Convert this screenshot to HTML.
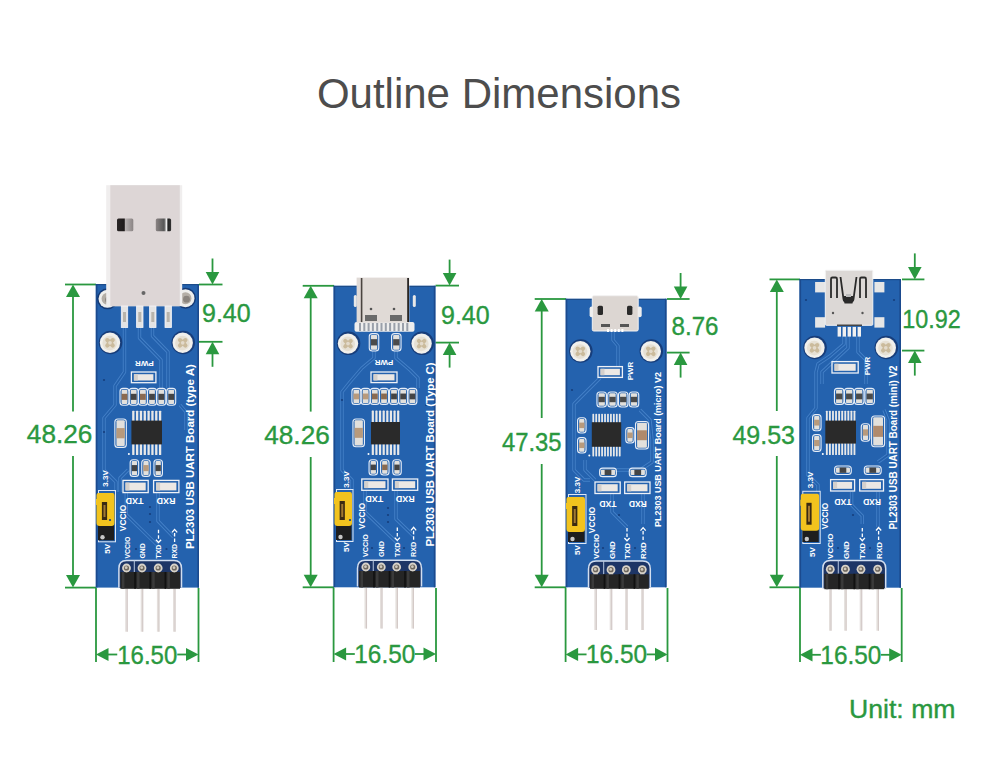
<!DOCTYPE html><html><head><meta charset="utf-8"><style>html,body{margin:0;padding:0;background:#fff;overflow:hidden;}svg{display:block;} text{font-family:"Liberation Sans",sans-serif;} .dim{font-size:25px;fill:#2a983f;stroke:#2a983f;stroke-width:0.35px;} .title{font-size:42px;fill:#4d4d4d;}</style></head><body>
<svg width="1000" height="783" viewBox="0 0 1000 783">
<rect width="1000" height="783" fill="#fff"/>
<text x="499" y="108" class="title" text-anchor="middle">Outline Dimensions</text>
<line x1="65" y1="284.5" x2="96" y2="284.5" stroke="#2a983f" stroke-width="1.8"/>
<line x1="65" y1="587.6" x2="96" y2="587.6" stroke="#2a983f" stroke-width="1.8"/>
<line x1="73" y1="294.5" x2="73" y2="411.6" stroke="#2a983f" stroke-width="1.8"/>
<line x1="73" y1="456" x2="73" y2="577.6" stroke="#2a983f" stroke-width="1.8"/>
<path d="M73,284.5 L66,297.0 L80,297.0 Z" fill="#2a983f"/>
<path d="M73,587.6 L66,575.1 L80,575.1 Z" fill="#2a983f"/>
<text x="59.6" y="443" class="dim" text-anchor="middle" textLength="65.5" lengthAdjust="spacingAndGlyphs">48.26</text>
<line x1="199" y1="284.5" x2="222.5" y2="284.5" stroke="#2a983f" stroke-width="1.8"/>
<line x1="199" y1="341.8" x2="222.5" y2="341.8" stroke="#2a983f" stroke-width="1.8"/>
<line x1="212.5" y1="258.5" x2="212.5" y2="274.5" stroke="#2a983f" stroke-width="1.8"/>
<path d="M212.5,284.5 L205.7,272.0 L219.3,272.0 Z" fill="#2a983f"/>
<line x1="212.5" y1="351.8" x2="212.5" y2="366.8" stroke="#2a983f" stroke-width="1.8"/>
<path d="M212.5,341.8 L205.7,354.3 L219.3,354.3 Z" fill="#2a983f"/>
<text x="202" y="322.4" class="dim">9.40</text>
<line x1="96" y1="588" x2="96" y2="662" stroke="#2a983f" stroke-width="1.8"/>
<line x1="198.5" y1="588" x2="198.5" y2="662" stroke="#2a983f" stroke-width="1.8"/>
<path d="M96,654.5 L108.5,647.9 L108.5,661.1 Z" fill="#2a983f"/>
<path d="M198.5,654.5 L186.0,647.9 L186.0,661.1 Z" fill="#2a983f"/>
<line x1="106" y1="654.5" x2="117.25" y2="654.5" stroke="#2a983f" stroke-width="1.8"/>
<line x1="177.25" y1="654.5" x2="188.5" y2="654.5" stroke="#2a983f" stroke-width="1.8"/>
<text x="147.25" y="663.5" class="dim" text-anchor="middle" textLength="60" lengthAdjust="spacingAndGlyphs">16.50</text>
<line x1="302.7" y1="285.8" x2="334" y2="285.8" stroke="#2a983f" stroke-width="1.8"/>
<line x1="302.7" y1="587.3" x2="334" y2="587.3" stroke="#2a983f" stroke-width="1.8"/>
<line x1="310.7" y1="295.8" x2="310.7" y2="411.6" stroke="#2a983f" stroke-width="1.8"/>
<line x1="310.7" y1="457" x2="310.7" y2="577.3" stroke="#2a983f" stroke-width="1.8"/>
<path d="M310.7,285.8 L303.7,298.3 L317.7,298.3 Z" fill="#2a983f"/>
<path d="M310.7,587.3 L303.7,574.8 L317.7,574.8 Z" fill="#2a983f"/>
<text x="297" y="443.5" class="dim" text-anchor="middle" textLength="65.5" lengthAdjust="spacingAndGlyphs">48.26</text>
<line x1="435.5" y1="285.6" x2="459" y2="285.6" stroke="#2a983f" stroke-width="1.8"/>
<line x1="435.5" y1="342.6" x2="459" y2="342.6" stroke="#2a983f" stroke-width="1.8"/>
<line x1="449.6" y1="259.6" x2="449.6" y2="275.6" stroke="#2a983f" stroke-width="1.8"/>
<path d="M449.6,285.6 L442.8,273.1 L456.40000000000003,273.1 Z" fill="#2a983f"/>
<line x1="449.6" y1="352.6" x2="449.6" y2="367.6" stroke="#2a983f" stroke-width="1.8"/>
<path d="M449.6,342.6 L442.8,355.1 L456.40000000000003,355.1 Z" fill="#2a983f"/>
<text x="441" y="324" class="dim">9.40</text>
<line x1="333.6" y1="588" x2="333.6" y2="662" stroke="#2a983f" stroke-width="1.8"/>
<line x1="436" y1="588" x2="436" y2="662" stroke="#2a983f" stroke-width="1.8"/>
<path d="M333.6,654 L346.1,647.4 L346.1,660.6 Z" fill="#2a983f"/>
<path d="M436,654 L423.5,647.4 L423.5,660.6 Z" fill="#2a983f"/>
<line x1="343.6" y1="654" x2="354.8" y2="654" stroke="#2a983f" stroke-width="1.8"/>
<line x1="414.8" y1="654" x2="426" y2="654" stroke="#2a983f" stroke-width="1.8"/>
<text x="384.8" y="663" class="dim" text-anchor="middle" textLength="61" lengthAdjust="spacingAndGlyphs">16.50</text>
<line x1="534.7" y1="299" x2="566" y2="299" stroke="#2a983f" stroke-width="1.8"/>
<line x1="534.7" y1="587.3" x2="566" y2="587.3" stroke="#2a983f" stroke-width="1.8"/>
<line x1="541.7" y1="309" x2="541.7" y2="418" stroke="#2a983f" stroke-width="1.8"/>
<line x1="541.7" y1="464" x2="541.7" y2="577.3" stroke="#2a983f" stroke-width="1.8"/>
<path d="M541.7,299 L534.7,311.5 L548.7,311.5 Z" fill="#2a983f"/>
<path d="M541.7,587.3 L534.7,574.8 L548.7,574.8 Z" fill="#2a983f"/>
<text x="531.8" y="451" class="dim" text-anchor="middle" textLength="59.6" lengthAdjust="spacingAndGlyphs">47.35</text>
<line x1="667" y1="299" x2="689.6" y2="299" stroke="#2a983f" stroke-width="1.8"/>
<line x1="667" y1="352.6" x2="689.6" y2="352.6" stroke="#2a983f" stroke-width="1.8"/>
<line x1="680.6" y1="273" x2="680.6" y2="289" stroke="#2a983f" stroke-width="1.8"/>
<path d="M680.6,299 L673.8000000000001,286.5 L687.4,286.5 Z" fill="#2a983f"/>
<line x1="680.6" y1="362.6" x2="680.6" y2="377.6" stroke="#2a983f" stroke-width="1.8"/>
<path d="M680.6,352.6 L673.8000000000001,365.1 L687.4,365.1 Z" fill="#2a983f"/>
<text x="671.5" y="334.8" class="dim" textLength="47" lengthAdjust="spacingAndGlyphs">8.76</text>
<line x1="565.6" y1="588" x2="565.6" y2="662" stroke="#2a983f" stroke-width="1.8"/>
<line x1="667.5" y1="588" x2="667.5" y2="662" stroke="#2a983f" stroke-width="1.8"/>
<path d="M565.6,654.4 L578.1,647.8 L578.1,661.0 Z" fill="#2a983f"/>
<path d="M667.5,654.4 L655.0,647.8 L655.0,661.0 Z" fill="#2a983f"/>
<line x1="575.6" y1="654.4" x2="586.55" y2="654.4" stroke="#2a983f" stroke-width="1.8"/>
<line x1="646.55" y1="654.4" x2="657.5" y2="654.4" stroke="#2a983f" stroke-width="1.8"/>
<text x="616.55" y="663.4" class="dim" text-anchor="middle" textLength="61" lengthAdjust="spacingAndGlyphs">16.50</text>
<line x1="769.5" y1="279.4" x2="800" y2="279.4" stroke="#2a983f" stroke-width="1.8"/>
<line x1="769.5" y1="587.3" x2="800" y2="587.3" stroke="#2a983f" stroke-width="1.8"/>
<line x1="776.8" y1="289.4" x2="776.8" y2="411" stroke="#2a983f" stroke-width="1.8"/>
<line x1="776.8" y1="456" x2="776.8" y2="577.3" stroke="#2a983f" stroke-width="1.8"/>
<path d="M776.8,279.4 L769.8,291.9 L783.8,291.9 Z" fill="#2a983f"/>
<path d="M776.8,587.3 L769.8,574.8 L783.8,574.8 Z" fill="#2a983f"/>
<text x="763.7" y="443.5" class="dim" text-anchor="middle">49.53</text>
<line x1="902" y1="279.4" x2="924.4" y2="279.4" stroke="#2a983f" stroke-width="1.8"/>
<line x1="902" y1="350.6" x2="924.4" y2="350.6" stroke="#2a983f" stroke-width="1.8"/>
<line x1="914.8" y1="253.39999999999998" x2="914.8" y2="269.4" stroke="#2a983f" stroke-width="1.8"/>
<path d="M914.8,279.4 L908.0,266.9 L921.5999999999999,266.9 Z" fill="#2a983f"/>
<line x1="914.8" y1="360.6" x2="914.8" y2="375.6" stroke="#2a983f" stroke-width="1.8"/>
<path d="M914.8,350.6 L908.0,363.1 L921.5999999999999,363.1 Z" fill="#2a983f"/>
<text x="902.2" y="328" class="dim" textLength="58.5" lengthAdjust="spacingAndGlyphs">10.92</text>
<line x1="800" y1="588" x2="800" y2="662" stroke="#2a983f" stroke-width="1.8"/>
<line x1="901.7" y1="588" x2="901.7" y2="662" stroke="#2a983f" stroke-width="1.8"/>
<path d="M800,654.8 L812.5,648.1999999999999 L812.5,661.4 Z" fill="#2a983f"/>
<path d="M901.7,654.8 L889.2,648.1999999999999 L889.2,661.4 Z" fill="#2a983f"/>
<line x1="810" y1="654.8" x2="820.85" y2="654.8" stroke="#2a983f" stroke-width="1.8"/>
<line x1="880.85" y1="654.8" x2="891.7" y2="654.8" stroke="#2a983f" stroke-width="1.8"/>
<text x="850.85" y="663.8" class="dim" text-anchor="middle" textLength="61" lengthAdjust="spacingAndGlyphs">16.50</text>
<text x="849" y="718" class="dim" textLength="106.5" lengthAdjust="spacingAndGlyphs">Unit: mm</text>
<rect x="95.8" y="284" width="103.2" height="303.6" fill="#2462ae"/>
<rect x="95.8" y="284" width="1.6" height="303.6" fill="#1b4a8e"/>
<rect x="197.4" y="284" width="1.6" height="303.6" fill="#1b4a8e"/>
<rect x="95.8" y="284" width="103.2" height="1.2" fill="#1c4c8a"/>
<path d="M124.5,327 L124.5,372 L115,386 L115,405 L104,418 L104,470 L116,482 L116,492" fill="none" stroke="#4f8bd0" stroke-width="3.4000000000000004" stroke-linejoin="round" opacity="0.75"/>
<path d="M124.5,327 L124.5,372 L115,386 L115,405 L104,418 L104,470 L116,482 L116,492" fill="none" stroke="#2360ab" stroke-width="1.6" stroke-linejoin="round"/>
<path d="M139.5,327 L139.5,338 L161,360 L161,388" fill="none" stroke="#4f8bd0" stroke-width="3.4000000000000004" stroke-linejoin="round" opacity="0.75"/>
<path d="M139.5,327 L139.5,338 L161,360 L161,388" fill="none" stroke="#2360ab" stroke-width="1.6" stroke-linejoin="round"/>
<path d="M152.5,327 L152.5,336 L168,352 L168,388" fill="none" stroke="#4f8bd0" stroke-width="3.4000000000000004" stroke-linejoin="round" opacity="0.75"/>
<path d="M152.5,327 L152.5,336 L168,352 L168,388" fill="none" stroke="#2360ab" stroke-width="1.6" stroke-linejoin="round"/>
<path d="M180,405 L186,412 L186,430" fill="none" stroke="#4f8bd0" stroke-width="3.4000000000000004" stroke-linejoin="round" opacity="0.75"/>
<path d="M180,405 L186,412 L186,430" fill="none" stroke="#2360ab" stroke-width="1.6" stroke-linejoin="round"/>
<path d="M126.3,493 L126.3,514.7 L157.6,545.4 L157.6,547" fill="none" stroke="#4f8bd0" stroke-width="3.4000000000000004" stroke-linejoin="round" opacity="0.75"/>
<path d="M126.3,493 L126.3,514.7 L157.6,545.4 L157.6,547" fill="none" stroke="#2360ab" stroke-width="1.6" stroke-linejoin="round"/>
<path d="M158,493 L158,521 L173.5,537" fill="none" stroke="#4f8bd0" stroke-width="3.4000000000000004" stroke-linejoin="round" opacity="0.75"/>
<path d="M158,493 L158,521 L173.5,537" fill="none" stroke="#2360ab" stroke-width="1.6" stroke-linejoin="round"/>
<path d="M128,470 L120,478 L120,492" fill="none" stroke="#4f8bd0" stroke-width="3.4000000000000004" stroke-linejoin="round" opacity="0.75"/>
<path d="M128,470 L120,478 L120,492" fill="none" stroke="#2360ab" stroke-width="1.6" stroke-linejoin="round"/>
<circle cx="107.5" cy="298.8" r="10.5" fill="#153a75"/>
<circle cx="107.5" cy="298.8" r="9" fill="#eeeeec"/>
<circle cx="107.5" cy="298.8" r="5.94" fill="#b4aea6"/>
<circle cx="108.5" cy="299.8" r="3.42" fill="#8a847e"/>
<circle cx="185.5" cy="298.2" r="10.5" fill="#153a75"/>
<circle cx="185.5" cy="298.2" r="9" fill="#eeeeec"/>
<circle cx="185.5" cy="298.2" r="5.94" fill="#b4aea6"/>
<circle cx="186.5" cy="299.2" r="3.42" fill="#8a847e"/>
<rect x="106.2" y="185.2" width="76" height="121" fill="#f0eeee"/>
<rect x="110.3" y="185.2" width="69.5" height="121" fill="#ddd6d6"/>
<defs><linearGradient id="hg" x1="0" x2="1"><stop offset="0" stop-color="#2a2626"/><stop offset="0.45" stop-color="#1e1a1a"/><stop offset="0.5" stop-color="#b8b2b2"/><stop offset="1" stop-color="#8a8484"/></linearGradient><linearGradient id="hg2" x1="0" x2="1"><stop offset="0" stop-color="#8a8484"/><stop offset="0.55" stop-color="#555"/><stop offset="0.7" stop-color="#eee"/><stop offset="0.8" stop-color="#222"/><stop offset="1" stop-color="#333"/></linearGradient></defs>
<rect x="117" y="218.4" width="16.3" height="12.8" rx="1.5" fill="url(#hg)"/>
<rect x="155.8" y="218.4" width="15.3" height="12.8" rx="1.5" fill="url(#hg2)"/>
<circle cx="143.5" cy="293" r="2" fill="#666"/>
<rect x="121.3" y="306" width="6.4" height="21.5" fill="#e4e4e4" stroke="#f4f6fa" stroke-width="0.8"/>
<rect x="123.0" y="312" width="3" height="10" fill="#b8b4ac"/>
<rect x="136.60000000000002" y="306" width="6.4" height="21.5" fill="#e4e4e4" stroke="#f4f6fa" stroke-width="0.8"/>
<rect x="138.3" y="312" width="3" height="10" fill="#b8b4ac"/>
<rect x="149.60000000000002" y="306" width="6.4" height="21.5" fill="#e4e4e4" stroke="#f4f6fa" stroke-width="0.8"/>
<rect x="151.3" y="312" width="3" height="10" fill="#b8b4ac"/>
<rect x="165.0" y="306" width="6.4" height="21.5" fill="#e4e4e4" stroke="#f4f6fa" stroke-width="0.8"/>
<rect x="166.7" y="312" width="3" height="10" fill="#b8b4ac"/>
<circle cx="110.5" cy="342.5" r="11.799999999999999" fill="#173d7a"/>
<circle cx="110" cy="342.8" r="10.2" fill="#f1f0ec"/>
<circle cx="109.7" cy="343.1" r="7.343999999999999" fill="#e6e0d4"/>
<rect x="104.084" y="340.76" width="11.831999999999999" height="4.08" rx="2.04" transform="rotate(45 110 342.8)" fill="#cbbb9c"/>
<rect x="104.084" y="340.76" width="11.831999999999999" height="4.08" rx="2.04" transform="rotate(135 110 342.8)" fill="#cbbb9c"/>
<circle cx="110" cy="342.8" r="1.8359999999999999" fill="#e3dacb"/>
<circle cx="183.2" cy="342.5" r="11.799999999999999" fill="#173d7a"/>
<circle cx="182.7" cy="342.8" r="10.2" fill="#f1f0ec"/>
<circle cx="182.39999999999998" cy="343.1" r="7.343999999999999" fill="#e6e0d4"/>
<rect x="176.784" y="340.76" width="11.831999999999999" height="4.08" rx="2.04" transform="rotate(45 182.7 342.8)" fill="#cbbb9c"/>
<rect x="176.784" y="340.76" width="11.831999999999999" height="4.08" rx="2.04" transform="rotate(135 182.7 342.8)" fill="#cbbb9c"/>
<circle cx="182.7" cy="342.8" r="1.8359999999999999" fill="#e3dacb"/>
<text transform="translate(144.4,360.584) rotate(180)" font-size="8" font-weight="bold" fill="#fff" text-anchor="middle">PWR</text>
<rect x="131.4" y="372" width="24.5" height="10.699999999999989" fill="none" stroke="#eef2f8" stroke-width="1.3"/>
<rect x="133.9" y="374.2" width="19.5" height="6.299999999999988" fill="#ece8e4"/>
<rect x="133.9" y="374.2" width="4" height="6.299999999999988" fill="#d4d0cc"/>
<rect x="120.0" y="388.4" width="9" height="16.900000000000034" rx="3" fill="none" stroke="#e6edf7" stroke-width="1.1"/>
<rect x="121.6" y="389.7" width="5.8" height="14.300000000000034" rx="1" fill="#e2e0dc"/>
<rect x="121.6" y="393.808" width="5.8" height="6.084000000000012" fill="#8a6a50"/>
<rect x="129.2" y="388.4" width="9" height="16.900000000000034" rx="3" fill="none" stroke="#e6edf7" stroke-width="1.1"/>
<rect x="130.79999999999998" y="389.7" width="5.8" height="14.300000000000034" rx="1" fill="#e2e0dc"/>
<rect x="130.79999999999998" y="393.808" width="5.8" height="6.084000000000012" fill="#444"/>
<rect x="138.4" y="388.4" width="9" height="16.900000000000034" rx="3" fill="none" stroke="#e6edf7" stroke-width="1.1"/>
<rect x="140.0" y="389.7" width="5.8" height="14.300000000000034" rx="1" fill="#e2e0dc"/>
<rect x="140.0" y="393.808" width="5.8" height="6.084000000000012" fill="#8a6a50"/>
<rect x="147.5" y="388.4" width="9" height="16.900000000000034" rx="3" fill="none" stroke="#e6edf7" stroke-width="1.1"/>
<rect x="149.1" y="389.7" width="5.8" height="14.300000000000034" rx="1" fill="#e2e0dc"/>
<rect x="149.1" y="393.808" width="5.8" height="6.084000000000012" fill="#444"/>
<rect x="156.8" y="388.4" width="9" height="16.900000000000034" rx="3" fill="none" stroke="#e6edf7" stroke-width="1.1"/>
<rect x="158.4" y="389.7" width="5.8" height="14.300000000000034" rx="1" fill="#e2e0dc"/>
<rect x="158.4" y="393.808" width="5.8" height="6.084000000000012" fill="#444"/>
<rect x="166.7" y="388.4" width="9" height="16.900000000000034" rx="3" fill="none" stroke="#e6edf7" stroke-width="1.1"/>
<rect x="168.29999999999998" y="389.7" width="5.8" height="14.300000000000034" rx="1" fill="#e2e0dc"/>
<rect x="168.29999999999998" y="393.808" width="5.8" height="6.084000000000012" fill="#444"/>
<rect x="132.165" y="410.7" width="2.2949999999999995" height="10.900000000000034" rx="0.6" fill="#e8e8e8"/>
<rect x="132.165" y="443.4" width="2.2949999999999995" height="11.600000000000023" rx="0.6" fill="#e8e8e8"/>
<rect x="135.99" y="410.7" width="2.2949999999999995" height="10.900000000000034" rx="0.6" fill="#e8e8e8"/>
<rect x="135.99" y="443.4" width="2.2949999999999995" height="11.600000000000023" rx="0.6" fill="#e8e8e8"/>
<rect x="139.815" y="410.7" width="2.2949999999999995" height="10.900000000000034" rx="0.6" fill="#e8e8e8"/>
<rect x="139.815" y="443.4" width="2.2949999999999995" height="11.600000000000023" rx="0.6" fill="#e8e8e8"/>
<rect x="143.64" y="410.7" width="2.2949999999999995" height="10.900000000000034" rx="0.6" fill="#e8e8e8"/>
<rect x="143.64" y="443.4" width="2.2949999999999995" height="11.600000000000023" rx="0.6" fill="#e8e8e8"/>
<rect x="147.465" y="410.7" width="2.2949999999999995" height="10.900000000000034" rx="0.6" fill="#e8e8e8"/>
<rect x="147.465" y="443.4" width="2.2949999999999995" height="11.600000000000023" rx="0.6" fill="#e8e8e8"/>
<rect x="151.29" y="410.7" width="2.2949999999999995" height="10.900000000000034" rx="0.6" fill="#e8e8e8"/>
<rect x="151.29" y="443.4" width="2.2949999999999995" height="11.600000000000023" rx="0.6" fill="#e8e8e8"/>
<rect x="155.11499999999998" y="410.7" width="2.2949999999999995" height="10.900000000000034" rx="0.6" fill="#e8e8e8"/>
<rect x="155.11499999999998" y="443.4" width="2.2949999999999995" height="11.600000000000023" rx="0.6" fill="#e8e8e8"/>
<rect x="158.94" y="410.7" width="2.2949999999999995" height="10.900000000000034" rx="0.6" fill="#e8e8e8"/>
<rect x="158.94" y="443.4" width="2.2949999999999995" height="11.600000000000023" rx="0.6" fill="#e8e8e8"/>
<rect x="131.4" y="420.6" width="30.599999999999994" height="23.799999999999955" fill="#2a2a2a"/>
<circle cx="128.9" cy="454" r="1" fill="#fff"/>
<rect x="114.85" y="419" width="11.5" height="28.399999999999977" rx="3" fill="none" stroke="#e6edf7" stroke-width="1.1"/>
<rect x="116.44999999999999" y="420.3" width="8.3" height="25.799999999999976" rx="1" fill="#e2e0dc"/>
<rect x="116.44999999999999" y="428.08799999999997" width="8.3" height="10.223999999999991" fill="#b89a7c"/>
<rect x="130.15" y="459.7" width="8.5" height="16.80000000000001" rx="3" fill="none" stroke="#e6edf7" stroke-width="1.1"/>
<rect x="131.75" y="461.0" width="5.3" height="14.200000000000012" rx="1" fill="#e2e0dc"/>
<rect x="131.75" y="465.07599999999996" width="5.3" height="6.048000000000004" fill="#444"/>
<rect x="141.75" y="459.7" width="8.5" height="16.80000000000001" rx="3" fill="none" stroke="#e6edf7" stroke-width="1.1"/>
<rect x="143.35" y="461.0" width="5.3" height="14.200000000000012" rx="1" fill="#e2e0dc"/>
<rect x="143.35" y="465.07599999999996" width="5.3" height="6.048000000000004" fill="#b89a7c"/>
<rect x="153.95" y="459.7" width="8.5" height="16.80000000000001" rx="3" fill="none" stroke="#e6edf7" stroke-width="1.1"/>
<rect x="155.54999999999998" y="461.0" width="5.3" height="14.200000000000012" rx="1" fill="#e2e0dc"/>
<rect x="155.54999999999998" y="465.07599999999996" width="5.3" height="6.048000000000004" fill="#444"/>
<rect x="123" y="480.4" width="25.19999999999999" height="12.200000000000045" fill="none" stroke="#eef2f8" stroke-width="1.3"/>
<rect x="125.5" y="482.59999999999997" width="20.19999999999999" height="7.800000000000045" fill="#ece8e4"/>
<rect x="125.5" y="482.59999999999997" width="4" height="7.800000000000045" fill="#d4d0cc"/>
<rect x="153.6" y="480.4" width="25.30000000000001" height="12.200000000000045" fill="none" stroke="#eef2f8" stroke-width="1.3"/>
<rect x="156.1" y="482.59999999999997" width="20.30000000000001" height="7.800000000000045" fill="#ece8e4"/>
<rect x="156.1" y="482.59999999999997" width="4" height="7.800000000000045" fill="#d4d0cc"/>
<rect x="98.5" y="490.5" width="17.0" height="51.299999999999955" fill="none" stroke="#dfe8f5" stroke-width="1"/>
<rect x="98.0" y="523" width="16.0" height="17.299999999999955" fill="#1e1e1e"/>
<circle cx="102.5" cy="537.3" r="2.2" fill="#c8c8c8"/>
<path d="M98.5,493 H112.5 Q114.5,493 114.5,496 V523 Q114.5,526 111.5,526 H99.5 Q96.5,526 96.5,523 V505 H96.0 V499 H96.5 V495 Q96.5,493 98.5,493 Z" fill="#f2c31e"/>
<rect x="101.9" y="502" width="5.2" height="18" fill="#3a2a12"/>
<rect x="103.5" y="505" width="2" height="12" fill="#a07830"/>
<text transform="translate(129.51505,558.5) rotate(-90)" font-size="6.9" font-weight="bold" fill="#fff" text-anchor="start">VCCIO</text>
<text transform="translate(144.81505,558.5) rotate(-90)" font-size="6.9" font-weight="bold" fill="#fff" text-anchor="start">GND</text>
<text transform="translate(161.01505,558.5) rotate(-90)" font-size="6.9" font-weight="bold" fill="#fff" text-anchor="start">TXD</text>
<text transform="translate(177.11505,558.5) rotate(-90)" font-size="6.9" font-weight="bold" fill="#fff" text-anchor="start">RXD</text>
<path d="M155.9,539.7 L158.5,542.5 L161.1,539.7" fill="none" stroke="#fff" stroke-width="1.3"/>
<path d="M158.5,538.7 V535.2 M158.5,533.2 V529.7" stroke="#fff" stroke-width="1.3"/>
<path d="M174.6,541.941 V538.441 M174.6,536.441 V532.941" stroke="#fff" stroke-width="1.3"/>
<path d="M172.0,532.441 L174.6,529.441 L177.2,532.441" fill="none" stroke="#fff" stroke-width="1.3"/>
<text transform="translate(126.02535,518) rotate(-90)" font-size="8.3" font-weight="bold" fill="#fff" text-anchor="middle">VCCIO</text>
<text transform="translate(107.716,478.5) rotate(-90)" font-size="8" font-weight="bold" fill="#fff" text-anchor="middle">3.3V</text>
<text transform="translate(109.916,548.8) rotate(-90)" font-size="8" font-weight="bold" fill="#fff" text-anchor="middle">5V</text>
<text transform="translate(134.4,498.2195) rotate(180)" font-size="9" font-weight="bold" fill="#fff" text-anchor="middle">TXD</text>
<text transform="translate(165.9,498.2195) rotate(180)" font-size="9" font-weight="bold" fill="#fff" text-anchor="middle">RXD</text>
<circle cx="150" cy="507" r="1.1" fill="#163f7e"/>
<circle cx="150" cy="514" r="1.1" fill="#163f7e"/>
<circle cx="150" cy="522" r="1.1" fill="#163f7e"/>
<circle cx="136" cy="549" r="1.1" fill="#163f7e"/>
<circle cx="166.5" cy="549" r="1.1" fill="#163f7e"/>
<circle cx="104" cy="380" r="1.1" fill="#163f7e"/>
<circle cx="110" cy="520" r="1.1" fill="#163f7e"/>
<circle cx="190" cy="405" r="1.1" fill="#163f7e"/>
<circle cx="104" cy="432" r="1.1" fill="#163f7e"/>
<path d="M118.9,587.8 L118.9,568.5 Q118.9,560.5 126.4,560.5 L174,560.5 Q181.5,560.5 181.5,568.5 L181.5,587.8" fill="#1d3566" stroke="#d2def0" stroke-width="1.5"/>
<line x1="134.3" y1="560.5" x2="134.3" y2="572" stroke="#b8c8e0" stroke-width="1"/>
<rect x="125.2" y="588.8" width="2.6" height="42.90000000000009" fill="#e4dfdc"/>
<rect x="126.7" y="588.8" width="1" height="42.90000000000009" fill="#d2c8c6"/>
<rect x="140.7" y="588.8" width="2.6" height="42.90000000000009" fill="#e4dfdc"/>
<rect x="142.2" y="588.8" width="1" height="42.90000000000009" fill="#d2c8c6"/>
<rect x="156.89999999999998" y="588.8" width="2.6" height="42.90000000000009" fill="#e4dfdc"/>
<rect x="158.39999999999998" y="588.8" width="1" height="42.90000000000009" fill="#d2c8c6"/>
<rect x="173.0" y="588.8" width="2.6" height="42.90000000000009" fill="#e4dfdc"/>
<rect x="174.5" y="588.8" width="1" height="42.90000000000009" fill="#d2c8c6"/>
<rect x="120.4" y="572" width="59.599999999999994" height="16.799999999999955" fill="#252525"/>
<rect x="134.25" y="572" width="1.6" height="16.799999999999955" fill="#111"/>
<rect x="149.39999999999998" y="572" width="1.6" height="16.799999999999955" fill="#111"/>
<rect x="164.54999999999998" y="572" width="1.6" height="16.799999999999955" fill="#111"/>
<rect x="121.9" y="572" width="2.5" height="16.799999999999955" fill="#3a3a3a"/>
<rect x="137.05" y="572" width="2.5" height="16.799999999999955" fill="#3a3a3a"/>
<rect x="152.2" y="572" width="2.5" height="16.799999999999955" fill="#3a3a3a"/>
<rect x="167.35" y="572" width="2.5" height="16.799999999999955" fill="#3a3a3a"/>
<rect x="124.3" y="568" width="4.4" height="4" fill="#bdb6ab"/>
<circle cx="126.5" cy="568" r="4.4" fill="#d8d3ca"/>
<circle cx="126.5" cy="568" r="2.6" fill="#6e675e"/>
<circle cx="126.2" cy="567.7" r="1.4" fill="#cfc9be"/>
<rect x="139.8" y="568" width="4.4" height="4" fill="#bdb6ab"/>
<circle cx="142" cy="568" r="4.4" fill="#d8d3ca"/>
<circle cx="142" cy="568" r="2.6" fill="#6e675e"/>
<circle cx="141.7" cy="567.7" r="1.4" fill="#cfc9be"/>
<rect x="156.0" y="568" width="4.4" height="4" fill="#bdb6ab"/>
<circle cx="158.2" cy="568" r="4.4" fill="#d8d3ca"/>
<circle cx="158.2" cy="568" r="2.6" fill="#6e675e"/>
<circle cx="157.89999999999998" cy="567.7" r="1.4" fill="#cfc9be"/>
<rect x="172.10000000000002" y="568" width="4.4" height="4" fill="#bdb6ab"/>
<circle cx="174.3" cy="568" r="4.4" fill="#d8d3ca"/>
<circle cx="174.3" cy="568" r="2.6" fill="#6e675e"/>
<circle cx="174.0" cy="567.7" r="1.4" fill="#cfc9be"/>
<text transform="translate(193.89175,456.6) rotate(-90)" font-size="11.5" font-weight="bold" fill="#fff" text-anchor="middle" textLength="185" lengthAdjust="spacingAndGlyphs">PL2303 USB UART Board (type A)</text>
<rect x="333.6" y="285.8" width="101.79999999999995" height="301.49999999999994" fill="#2462ae"/>
<rect x="333.6" y="285.8" width="1.6" height="301.49999999999994" fill="#1b4a8e"/>
<rect x="433.79999999999995" y="285.8" width="1.6" height="301.49999999999994" fill="#1b4a8e"/>
<rect x="333.6" y="285.8" width="101.79999999999995" height="1.2" fill="#1c4c8a"/>
<path d="M374,351 L374,358 L362,368 L350,382 L342,392 L342,470 L352,480 L352,490" fill="none" stroke="#4f8bd0" stroke-width="3.4000000000000004" stroke-linejoin="round" opacity="0.75"/>
<path d="M374,351 L374,358 L362,368 L350,382 L342,392 L342,470 L352,480 L352,490" fill="none" stroke="#2360ab" stroke-width="1.6" stroke-linejoin="round"/>
<path d="M396,351 L396,358 L410,370 L418,378 L418,388" fill="none" stroke="#4f8bd0" stroke-width="3.4000000000000004" stroke-linejoin="round" opacity="0.75"/>
<path d="M396,351 L396,358 L410,370 L418,378 L418,388" fill="none" stroke="#2360ab" stroke-width="1.6" stroke-linejoin="round"/>
<path d="M365,491 L365,512 L397.3,543 L397.3,546" fill="none" stroke="#4f8bd0" stroke-width="3.4000000000000004" stroke-linejoin="round" opacity="0.75"/>
<path d="M365,491 L365,512 L397.3,543 L397.3,546" fill="none" stroke="#2360ab" stroke-width="1.6" stroke-linejoin="round"/>
<path d="M396,491 L396,519 L413.6,536" fill="none" stroke="#4f8bd0" stroke-width="3.4000000000000004" stroke-linejoin="round" opacity="0.75"/>
<path d="M396,491 L396,519 L413.6,536" fill="none" stroke="#2360ab" stroke-width="1.6" stroke-linejoin="round"/>
<rect x="354.5" y="322" width="60" height="9.7" rx="2" fill="#eeeeee"/>
<rect x="359.0" y="323" width="2" height="8" fill="#9aa0aa"/>
<rect x="363.3" y="323" width="2" height="8" fill="#9aa0aa"/>
<rect x="367.6" y="323" width="2" height="8" fill="#9aa0aa"/>
<rect x="371.9" y="323" width="2" height="8" fill="#9aa0aa"/>
<rect x="376.2" y="323" width="2" height="8" fill="#9aa0aa"/>
<rect x="380.5" y="323" width="2" height="8" fill="#9aa0aa"/>
<rect x="384.8" y="323" width="2" height="8" fill="#9aa0aa"/>
<rect x="389.1" y="323" width="2" height="8" fill="#9aa0aa"/>
<rect x="393.4" y="323" width="2" height="8" fill="#9aa0aa"/>
<rect x="397.7" y="323" width="2" height="8" fill="#9aa0aa"/>
<rect x="402.0" y="323" width="2" height="8" fill="#9aa0aa"/>
<rect x="406.3" y="323" width="2" height="8" fill="#9aa0aa"/>
<rect x="353.8" y="295" width="3" height="12" rx="1.5" fill="#e8e8e8"/>
<rect x="412.8" y="295" width="3" height="12" rx="1.5" fill="#e8e8e8"/>
<rect x="356.6" y="277.6" width="52.7" height="45" fill="#e0dad6"/>
<rect x="360.8" y="278" width="1.6" height="44" fill="#4a4440"/>
<rect x="407.2" y="278" width="1.8" height="44" fill="#2a2624"/>
<rect x="365" y="315" width="12" height="6" fill="#6a6a6a"/>
<rect x="390" y="315" width="12" height="6" fill="#6a6a6a"/>
<circle cx="371" cy="309" r="1.3" fill="#555"/><circle cx="394" cy="309" r="1.3" fill="#555"/>
<circle cx="348.5" cy="343.3" r="11.799999999999999" fill="#173d7a"/>
<circle cx="348" cy="343.6" r="10.2" fill="#f1f0ec"/>
<circle cx="347.7" cy="343.90000000000003" r="7.343999999999999" fill="#e6e0d4"/>
<rect x="342.084" y="341.56" width="11.831999999999999" height="4.08" rx="2.04" transform="rotate(45 348 343.6)" fill="#cbbb9c"/>
<rect x="342.084" y="341.56" width="11.831999999999999" height="4.08" rx="2.04" transform="rotate(135 348 343.6)" fill="#cbbb9c"/>
<circle cx="348" cy="343.6" r="1.8359999999999999" fill="#e3dacb"/>
<circle cx="422.1" cy="343.3" r="11.799999999999999" fill="#173d7a"/>
<circle cx="421.6" cy="343.6" r="10.2" fill="#f1f0ec"/>
<circle cx="421.3" cy="343.90000000000003" r="7.343999999999999" fill="#e6e0d4"/>
<rect x="415.684" y="341.56" width="11.831999999999999" height="4.08" rx="2.04" transform="rotate(45 421.6 343.6)" fill="#cbbb9c"/>
<rect x="415.684" y="341.56" width="11.831999999999999" height="4.08" rx="2.04" transform="rotate(135 421.6 343.6)" fill="#cbbb9c"/>
<circle cx="421.6" cy="343.6" r="1.8359999999999999" fill="#e3dacb"/>
<rect x="369.25" y="333.6" width="9.5" height="17.399999999999977" rx="3" fill="none" stroke="#e6edf7" stroke-width="1.1"/>
<rect x="370.85" y="334.90000000000003" width="6.3" height="14.799999999999978" rx="1" fill="#e2e0dc"/>
<rect x="370.85" y="339.168" width="6.3" height="6.263999999999991" fill="#4a4a4a"/>
<rect x="391.55" y="333.6" width="9.5" height="17.399999999999977" rx="3" fill="none" stroke="#e6edf7" stroke-width="1.1"/>
<rect x="393.15000000000003" y="334.90000000000003" width="6.3" height="14.799999999999978" rx="1" fill="#e2e0dc"/>
<rect x="393.15000000000003" y="339.168" width="6.3" height="6.263999999999991" fill="#4a4a4a"/>
<text transform="translate(384,359.784) rotate(180)" font-size="8" font-weight="bold" fill="#fff" text-anchor="middle">PWR</text>
<rect x="371" y="372" width="26" height="10.600000000000023" fill="none" stroke="#eef2f8" stroke-width="1.3"/>
<rect x="373.5" y="374.2" width="21" height="6.200000000000022" fill="#ece8e4"/>
<rect x="373.5" y="374.2" width="4" height="6.200000000000022" fill="#d4d0cc"/>
<rect x="351.9" y="388.4" width="9" height="16.100000000000023" rx="3" fill="none" stroke="#e6edf7" stroke-width="1.1"/>
<rect x="353.5" y="389.7" width="5.8" height="13.500000000000023" rx="1" fill="#e2e0dc"/>
<rect x="353.5" y="393.55199999999996" width="5.8" height="5.796000000000008" fill="#b89a7c"/>
<rect x="361.1" y="388.4" width="9" height="16.100000000000023" rx="3" fill="none" stroke="#e6edf7" stroke-width="1.1"/>
<rect x="362.70000000000005" y="389.7" width="5.8" height="13.500000000000023" rx="1" fill="#e2e0dc"/>
<rect x="362.70000000000005" y="393.55199999999996" width="5.8" height="5.796000000000008" fill="#b89a7c"/>
<rect x="370.3" y="388.4" width="9" height="16.100000000000023" rx="3" fill="none" stroke="#e6edf7" stroke-width="1.1"/>
<rect x="371.90000000000003" y="389.7" width="5.8" height="13.500000000000023" rx="1" fill="#e2e0dc"/>
<rect x="371.90000000000003" y="393.55199999999996" width="5.8" height="5.796000000000008" fill="#8a6a50"/>
<rect x="379.5" y="388.4" width="9" height="16.100000000000023" rx="3" fill="none" stroke="#e6edf7" stroke-width="1.1"/>
<rect x="381.1" y="389.7" width="5.8" height="13.500000000000023" rx="1" fill="#e2e0dc"/>
<rect x="381.1" y="393.55199999999996" width="5.8" height="5.796000000000008" fill="#8a6a50"/>
<rect x="389.5" y="388.4" width="9" height="16.100000000000023" rx="3" fill="none" stroke="#e6edf7" stroke-width="1.1"/>
<rect x="391.1" y="389.7" width="5.8" height="13.500000000000023" rx="1" fill="#e2e0dc"/>
<rect x="391.1" y="393.55199999999996" width="5.8" height="5.796000000000008" fill="#444"/>
<rect x="398.7" y="388.4" width="9" height="16.100000000000023" rx="3" fill="none" stroke="#e6edf7" stroke-width="1.1"/>
<rect x="400.3" y="389.7" width="5.8" height="13.500000000000023" rx="1" fill="#e2e0dc"/>
<rect x="400.3" y="393.55199999999996" width="5.8" height="5.796000000000008" fill="#444"/>
<rect x="407.9" y="388.4" width="9" height="16.100000000000023" rx="3" fill="none" stroke="#e6edf7" stroke-width="1.1"/>
<rect x="409.5" y="389.7" width="5.8" height="13.500000000000023" rx="1" fill="#e2e0dc"/>
<rect x="409.5" y="393.55199999999996" width="5.8" height="5.796000000000008" fill="#444"/>
<rect x="371.725" y="410.6" width="2.175" height="12.399999999999977" rx="0.6" fill="#e8e8e8"/>
<rect x="371.725" y="443.4" width="2.175" height="11.600000000000023" rx="0.6" fill="#e8e8e8"/>
<rect x="375.35" y="410.6" width="2.175" height="12.399999999999977" rx="0.6" fill="#e8e8e8"/>
<rect x="375.35" y="443.4" width="2.175" height="11.600000000000023" rx="0.6" fill="#e8e8e8"/>
<rect x="378.975" y="410.6" width="2.175" height="12.399999999999977" rx="0.6" fill="#e8e8e8"/>
<rect x="378.975" y="443.4" width="2.175" height="11.600000000000023" rx="0.6" fill="#e8e8e8"/>
<rect x="382.6" y="410.6" width="2.175" height="12.399999999999977" rx="0.6" fill="#e8e8e8"/>
<rect x="382.6" y="443.4" width="2.175" height="11.600000000000023" rx="0.6" fill="#e8e8e8"/>
<rect x="386.225" y="410.6" width="2.175" height="12.399999999999977" rx="0.6" fill="#e8e8e8"/>
<rect x="386.225" y="443.4" width="2.175" height="11.600000000000023" rx="0.6" fill="#e8e8e8"/>
<rect x="389.85" y="410.6" width="2.175" height="12.399999999999977" rx="0.6" fill="#e8e8e8"/>
<rect x="389.85" y="443.4" width="2.175" height="11.600000000000023" rx="0.6" fill="#e8e8e8"/>
<rect x="393.475" y="410.6" width="2.175" height="12.399999999999977" rx="0.6" fill="#e8e8e8"/>
<rect x="393.475" y="443.4" width="2.175" height="11.600000000000023" rx="0.6" fill="#e8e8e8"/>
<rect x="397.1" y="410.6" width="2.175" height="12.399999999999977" rx="0.6" fill="#e8e8e8"/>
<rect x="397.1" y="443.4" width="2.175" height="11.600000000000023" rx="0.6" fill="#e8e8e8"/>
<rect x="371" y="422" width="29" height="22.399999999999977" fill="#2a2a2a"/>
<circle cx="368.5" cy="454" r="1" fill="#fff"/>
<rect x="352.95" y="419" width="11.5" height="27.69999999999999" rx="3" fill="none" stroke="#e6edf7" stroke-width="1.1"/>
<rect x="354.55" y="420.3" width="8.3" height="25.099999999999987" rx="1" fill="#e2e0dc"/>
<rect x="354.55" y="427.864" width="8.3" height="9.971999999999996" fill="#b89a7c"/>
<rect x="369.05" y="459.7" width="8.5" height="15.300000000000011" rx="3" fill="none" stroke="#e6edf7" stroke-width="1.1"/>
<rect x="370.65000000000003" y="461.0" width="5.3" height="12.700000000000012" rx="1" fill="#e2e0dc"/>
<rect x="370.65000000000003" y="464.596" width="5.3" height="5.508000000000004" fill="#444"/>
<rect x="380.55" y="459.7" width="8.5" height="15.300000000000011" rx="3" fill="none" stroke="#e6edf7" stroke-width="1.1"/>
<rect x="382.15000000000003" y="461.0" width="5.3" height="12.700000000000012" rx="1" fill="#e2e0dc"/>
<rect x="382.15000000000003" y="464.596" width="5.3" height="5.508000000000004" fill="#8a6a50"/>
<rect x="392.75" y="459.7" width="8.5" height="15.300000000000011" rx="3" fill="none" stroke="#e6edf7" stroke-width="1.1"/>
<rect x="394.35" y="461.0" width="5.3" height="12.700000000000012" rx="1" fill="#e2e0dc"/>
<rect x="394.35" y="464.596" width="5.3" height="5.508000000000004" fill="#444"/>
<rect x="361.8" y="479" width="26.19999999999999" height="11.300000000000011" fill="none" stroke="#eef2f8" stroke-width="1.3"/>
<rect x="364.3" y="481.2" width="21.19999999999999" height="6.900000000000011" fill="#ece8e4"/>
<rect x="364.3" y="481.2" width="4" height="6.900000000000011" fill="#d4d0cc"/>
<rect x="392.4" y="479" width="25.30000000000001" height="11.300000000000011" fill="none" stroke="#eef2f8" stroke-width="1.3"/>
<rect x="394.9" y="481.2" width="20.30000000000001" height="6.900000000000011" fill="#ece8e4"/>
<rect x="394.9" y="481.2" width="4" height="6.900000000000011" fill="#d4d0cc"/>
<rect x="336.5" y="489.5" width="16.5" height="52" fill="none" stroke="#dfe8f5" stroke-width="1"/>
<rect x="336.0" y="523" width="15.5" height="17" fill="#1e1e1e"/>
<circle cx="340.5" cy="537" r="2.2" fill="#c8c8c8"/>
<path d="M336.5,492 H350 Q352,492 352,495 V523 Q352,526 349,526 H337.5 Q334.5,526 334.5,523 V504 H334.0 V498 H334.5 V494 Q334.5,492 336.5,492 Z" fill="#f2c31e"/>
<rect x="339.65" y="501" width="5.2" height="19" fill="#3a2a12"/>
<rect x="341.25" y="504" width="2" height="13" fill="#a07830"/>
<text transform="translate(367.9244,557) rotate(-90)" font-size="7.2" font-weight="bold" fill="#fff" text-anchor="start">VCCIO</text>
<text transform="translate(383.9244,557) rotate(-90)" font-size="7.2" font-weight="bold" fill="#fff" text-anchor="start">GND</text>
<text transform="translate(399.9244,557) rotate(-90)" font-size="7.2" font-weight="bold" fill="#fff" text-anchor="start">TXD</text>
<text transform="translate(416.2244,557) rotate(-90)" font-size="7.2" font-weight="bold" fill="#fff" text-anchor="start">RXD</text>
<path d="M394.7,537.6 L397.3,540.4 L399.90000000000003,537.6" fill="none" stroke="#fff" stroke-width="1.3"/>
<path d="M397.3,536.6 V533.1 M397.3,531.1 V527.6" stroke="#fff" stroke-width="1.3"/>
<path d="M413.6,539.808 V536.308 M413.6,534.308 V530.808" stroke="#fff" stroke-width="1.3"/>
<path d="M411.0,530.308 L413.6,527.308 L416.20000000000005,530.308" fill="none" stroke="#fff" stroke-width="1.3"/>
<text transform="translate(364.62535,516) rotate(-90)" font-size="8.3" font-weight="bold" fill="#fff" text-anchor="middle">VCCIO</text>
<text transform="translate(349.116,479.5) rotate(-90)" font-size="8" font-weight="bold" fill="#fff" text-anchor="middle">3.3V</text>
<text transform="translate(349.116,547) rotate(-90)" font-size="8" font-weight="bold" fill="#fff" text-anchor="middle">5V</text>
<text transform="translate(374.3,496.0195) rotate(180)" font-size="9" font-weight="bold" fill="#fff" text-anchor="middle">TXD</text>
<text transform="translate(405.2,496.0195) rotate(180)" font-size="9" font-weight="bold" fill="#fff" text-anchor="middle">RXD</text>
<circle cx="388" cy="508" r="1.1" fill="#163f7e"/>
<circle cx="388" cy="515" r="1.1" fill="#163f7e"/>
<circle cx="388" cy="522" r="1.1" fill="#163f7e"/>
<circle cx="372" cy="548" r="1.1" fill="#163f7e"/>
<circle cx="404" cy="548" r="1.1" fill="#163f7e"/>
<circle cx="342" cy="400" r="1.1" fill="#163f7e"/>
<circle cx="350" cy="520" r="1.1" fill="#163f7e"/>
<circle cx="426" cy="405" r="1.1" fill="#163f7e"/>
<path d="M357.5,586.5 L357.5,568.2 Q357.5,560.2 365,560.2 L414,560.2 Q421.5,560.2 421.5,568.2 L421.5,586.5" fill="#1d3566" stroke="#d2def0" stroke-width="1.5"/>
<line x1="373.25" y1="560.2" x2="373.25" y2="571" stroke="#b8c8e0" stroke-width="1"/>
<rect x="364.5" y="587.5" width="2.6" height="41.0" fill="#e4dfdc"/>
<rect x="366.0" y="587.5" width="1" height="41.0" fill="#d2c8c6"/>
<rect x="380.0" y="587.5" width="2.6" height="41.0" fill="#e4dfdc"/>
<rect x="381.5" y="587.5" width="1" height="41.0" fill="#d2c8c6"/>
<rect x="395.4" y="587.5" width="2.6" height="41.0" fill="#e4dfdc"/>
<rect x="396.9" y="587.5" width="1" height="41.0" fill="#d2c8c6"/>
<rect x="411.4" y="587.5" width="2.6" height="41.0" fill="#e4dfdc"/>
<rect x="412.9" y="587.5" width="1" height="41.0" fill="#d2c8c6"/>
<rect x="359" y="571" width="61" height="16.5" fill="#252525"/>
<rect x="373.2" y="571" width="1.6" height="16.5" fill="#111"/>
<rect x="388.7" y="571" width="1.6" height="16.5" fill="#111"/>
<rect x="404.2" y="571" width="1.6" height="16.5" fill="#111"/>
<rect x="360.5" y="571" width="2.5" height="16.5" fill="#3a3a3a"/>
<rect x="376.0" y="571" width="2.5" height="16.5" fill="#3a3a3a"/>
<rect x="391.5" y="571" width="2.5" height="16.5" fill="#3a3a3a"/>
<rect x="407.0" y="571" width="2.5" height="16.5" fill="#3a3a3a"/>
<rect x="363.6" y="567" width="4.4" height="4" fill="#bdb6ab"/>
<circle cx="365.8" cy="567" r="4.4" fill="#d8d3ca"/>
<circle cx="365.8" cy="567" r="2.6" fill="#6e675e"/>
<circle cx="365.5" cy="566.7" r="1.4" fill="#cfc9be"/>
<rect x="379.1" y="567" width="4.4" height="4" fill="#bdb6ab"/>
<circle cx="381.3" cy="567" r="4.4" fill="#d8d3ca"/>
<circle cx="381.3" cy="567" r="2.6" fill="#6e675e"/>
<circle cx="381.0" cy="566.7" r="1.4" fill="#cfc9be"/>
<rect x="394.5" y="567" width="4.4" height="4" fill="#bdb6ab"/>
<circle cx="396.7" cy="567" r="4.4" fill="#d8d3ca"/>
<circle cx="396.7" cy="567" r="2.6" fill="#6e675e"/>
<circle cx="396.4" cy="566.7" r="1.4" fill="#cfc9be"/>
<rect x="410.5" y="567" width="4.4" height="4" fill="#bdb6ab"/>
<circle cx="412.7" cy="567" r="4.4" fill="#d8d3ca"/>
<circle cx="412.7" cy="567" r="2.6" fill="#6e675e"/>
<circle cx="412.4" cy="566.7" r="1.4" fill="#cfc9be"/>
<text transform="translate(433.69175,454.5) rotate(-90)" font-size="11.5" font-weight="bold" fill="#fff" text-anchor="middle" textLength="184" lengthAdjust="spacingAndGlyphs">PL2303 USB UART Board (Type C)</text>
<rect x="565.7" y="298.8" width="100.79999999999995" height="288.49999999999994" fill="#2462ae"/>
<rect x="565.7" y="298.8" width="1.6" height="288.49999999999994" fill="#1b4a8e"/>
<rect x="664.9" y="298.8" width="1.6" height="288.49999999999994" fill="#1b4a8e"/>
<rect x="565.7" y="298.8" width="100.79999999999995" height="1.2" fill="#1c4c8a"/>
<path d="M613,331 L613,340 L618,346 L618,366" fill="none" stroke="#4f8bd0" stroke-width="3.4000000000000004" stroke-linejoin="round" opacity="0.75"/>
<path d="M613,331 L613,340 L618,346 L618,366" fill="none" stroke="#2360ab" stroke-width="1.6" stroke-linejoin="round"/>
<path d="M600,378 L586,392 L574,404 L574,470 L584,480 L590,480" fill="none" stroke="#4f8bd0" stroke-width="3.4000000000000004" stroke-linejoin="round" opacity="0.75"/>
<path d="M600,378 L586,392 L574,404 L574,470 L584,480 L590,480" fill="none" stroke="#2360ab" stroke-width="1.6" stroke-linejoin="round"/>
<path d="M640,410 L650,420 L652,440 L652,462 L640,470 L600,470" fill="none" stroke="#4f8bd0" stroke-width="3.4000000000000004" stroke-linejoin="round" opacity="0.75"/>
<path d="M640,410 L650,420 L652,440 L652,462 L640,470 L600,470" fill="none" stroke="#2360ab" stroke-width="1.6" stroke-linejoin="round"/>
<path d="M612,494 L612,512 L627,527" fill="none" stroke="#4f8bd0" stroke-width="3.4000000000000004" stroke-linejoin="round" opacity="0.75"/>
<path d="M612,494 L612,512 L627,527" fill="none" stroke="#2360ab" stroke-width="1.6" stroke-linejoin="round"/>
<path d="M643,494 L643,524" fill="none" stroke="#4f8bd0" stroke-width="3.4000000000000004" stroke-linejoin="round" opacity="0.75"/>
<path d="M643,494 L643,524" fill="none" stroke="#2360ab" stroke-width="1.6" stroke-linejoin="round"/>
<path d="M585,460 L585,470 L595,480" fill="none" stroke="#4f8bd0" stroke-width="3.4000000000000004" stroke-linejoin="round" opacity="0.75"/>
<path d="M585,460 L585,470 L595,480" fill="none" stroke="#2360ab" stroke-width="1.6" stroke-linejoin="round"/>
<rect x="589.6" y="306.5" width="4" height="10.7" rx="2" fill="#eeeeee"/>
<rect x="637.7" y="306.5" width="4" height="10.7" rx="2" fill="#eeeeee"/>
<rect x="592.3" y="295.7" width="45.9" height="35.3" rx="1.5" fill="#dcd6d2" stroke="#f2f2f2" stroke-width="1"/>
<rect x="597.6" y="305.7" width="5.4" height="9.2" rx="1.5" fill="#2a2a2a"/>
<rect x="627" y="305.7" width="5.4" height="9.2" rx="1.5" fill="#2a2a2a"/>
<rect x="601" y="324" width="9" height="3" fill="#555"/><rect x="620" y="324" width="9" height="3" fill="#555"/>
<rect x="607.0" y="329" width="2" height="3" fill="#fff"/>
<rect x="610.6" y="329" width="2" height="3" fill="#fff"/>
<rect x="614.2" y="329" width="2" height="3" fill="#fff"/>
<rect x="617.8" y="329" width="2" height="3" fill="#fff"/>
<rect x="621.4" y="329" width="2" height="3" fill="#fff"/>
<circle cx="580.8" cy="351.0" r="11.799999999999999" fill="#173d7a"/>
<circle cx="580.3" cy="351.3" r="10.2" fill="#f1f0ec"/>
<circle cx="580.0" cy="351.6" r="7.343999999999999" fill="#e6e0d4"/>
<rect x="574.3839999999999" y="349.26" width="11.831999999999999" height="4.08" rx="2.04" transform="rotate(45 580.3 351.3)" fill="#cbbb9c"/>
<rect x="574.3839999999999" y="349.26" width="11.831999999999999" height="4.08" rx="2.04" transform="rotate(135 580.3 351.3)" fill="#cbbb9c"/>
<circle cx="580.3" cy="351.3" r="1.8359999999999999" fill="#e3dacb"/>
<circle cx="651.3" cy="351.0" r="11.799999999999999" fill="#173d7a"/>
<circle cx="650.8" cy="351.3" r="10.2" fill="#f1f0ec"/>
<circle cx="650.5" cy="351.6" r="7.343999999999999" fill="#e6e0d4"/>
<rect x="644.8839999999999" y="349.26" width="11.831999999999999" height="4.08" rx="2.04" transform="rotate(45 650.8 351.3)" fill="#cbbb9c"/>
<rect x="644.8839999999999" y="349.26" width="11.831999999999999" height="4.08" rx="2.04" transform="rotate(135 650.8 351.3)" fill="#cbbb9c"/>
<circle cx="650.8" cy="351.3" r="1.8359999999999999" fill="#e3dacb"/>
<rect x="598" y="366.6" width="24.399999999999977" height="10.799999999999955" fill="none" stroke="#eef2f8" stroke-width="1.3"/>
<rect x="600.5" y="368.8" width="19.399999999999977" height="6.399999999999954" fill="#ece8e4"/>
<rect x="600.5" y="368.8" width="4" height="6.399999999999954" fill="#d4d0cc"/>
<text transform="translate(632.916,371) rotate(-90)" font-size="8" font-weight="bold" fill="#fff" text-anchor="middle">PWR</text>
<rect x="596.95" y="392" width="9.5" height="15" rx="3" fill="none" stroke="#e6edf7" stroke-width="1.1"/>
<rect x="598.5500000000001" y="393.3" width="6.3" height="12.4" rx="1" fill="#e2e0dc"/>
<rect x="598.5500000000001" y="396.8" width="6.3" height="5.3999999999999995" fill="#4a4a4a"/>
<rect x="607.75" y="392" width="9.5" height="15" rx="3" fill="none" stroke="#e6edf7" stroke-width="1.1"/>
<rect x="609.35" y="393.3" width="6.3" height="12.4" rx="1" fill="#e2e0dc"/>
<rect x="609.35" y="396.8" width="6.3" height="5.3999999999999995" fill="#4a4a4a"/>
<rect x="618.45" y="392" width="9.5" height="15" rx="3" fill="none" stroke="#e6edf7" stroke-width="1.1"/>
<rect x="620.0500000000001" y="393.3" width="6.3" height="12.4" rx="1" fill="#e2e0dc"/>
<rect x="620.0500000000001" y="396.8" width="6.3" height="5.3999999999999995" fill="#4a4a4a"/>
<rect x="629.25" y="392" width="9.5" height="15" rx="3" fill="none" stroke="#e6edf7" stroke-width="1.1"/>
<rect x="630.85" y="393.3" width="6.3" height="12.4" rx="1" fill="#e2e0dc"/>
<rect x="630.85" y="396.8" width="6.3" height="5.3999999999999995" fill="#4a4a4a"/>
<rect x="592.388" y="413.8" width="1.7640000000000056" height="9.399999999999977" rx="0.6" fill="#e8e8e8"/>
<rect x="592.388" y="445.8" width="1.7640000000000056" height="10.599999999999966" rx="0.6" fill="#e8e8e8"/>
<rect x="595.328" y="413.8" width="1.7640000000000056" height="9.399999999999977" rx="0.6" fill="#e8e8e8"/>
<rect x="595.328" y="445.8" width="1.7640000000000056" height="10.599999999999966" rx="0.6" fill="#e8e8e8"/>
<rect x="598.268" y="413.8" width="1.7640000000000056" height="9.399999999999977" rx="0.6" fill="#e8e8e8"/>
<rect x="598.268" y="445.8" width="1.7640000000000056" height="10.599999999999966" rx="0.6" fill="#e8e8e8"/>
<rect x="601.2080000000001" y="413.8" width="1.7640000000000056" height="9.399999999999977" rx="0.6" fill="#e8e8e8"/>
<rect x="601.2080000000001" y="445.8" width="1.7640000000000056" height="10.599999999999966" rx="0.6" fill="#e8e8e8"/>
<rect x="604.148" y="413.8" width="1.7640000000000056" height="9.399999999999977" rx="0.6" fill="#e8e8e8"/>
<rect x="604.148" y="445.8" width="1.7640000000000056" height="10.599999999999966" rx="0.6" fill="#e8e8e8"/>
<rect x="607.0880000000001" y="413.8" width="1.7640000000000056" height="9.399999999999977" rx="0.6" fill="#e8e8e8"/>
<rect x="607.0880000000001" y="445.8" width="1.7640000000000056" height="10.599999999999966" rx="0.6" fill="#e8e8e8"/>
<rect x="610.028" y="413.8" width="1.7640000000000056" height="9.399999999999977" rx="0.6" fill="#e8e8e8"/>
<rect x="610.028" y="445.8" width="1.7640000000000056" height="10.599999999999966" rx="0.6" fill="#e8e8e8"/>
<rect x="612.9680000000001" y="413.8" width="1.7640000000000056" height="9.399999999999977" rx="0.6" fill="#e8e8e8"/>
<rect x="612.9680000000001" y="445.8" width="1.7640000000000056" height="10.599999999999966" rx="0.6" fill="#e8e8e8"/>
<rect x="615.9080000000001" y="413.8" width="1.7640000000000056" height="9.399999999999977" rx="0.6" fill="#e8e8e8"/>
<rect x="615.9080000000001" y="445.8" width="1.7640000000000056" height="10.599999999999966" rx="0.6" fill="#e8e8e8"/>
<rect x="618.8480000000001" y="413.8" width="1.7640000000000056" height="9.399999999999977" rx="0.6" fill="#e8e8e8"/>
<rect x="618.8480000000001" y="445.8" width="1.7640000000000056" height="10.599999999999966" rx="0.6" fill="#e8e8e8"/>
<rect x="591.8" y="422.2" width="29.40000000000009" height="24.600000000000023" fill="#2a2a2a"/>
<circle cx="589.3" cy="455.4" r="1" fill="#fff"/>
<rect x="577.55" y="417.7" width="8.5" height="15.300000000000011" rx="3" fill="none" stroke="#e6edf7" stroke-width="1.1"/>
<rect x="579.15" y="419.0" width="5.3" height="12.700000000000012" rx="1" fill="#e2e0dc"/>
<rect x="579.15" y="422.596" width="5.3" height="5.508000000000004" fill="#b89a7c"/>
<rect x="577.55" y="437.6" width="8.5" height="15.399999999999977" rx="3" fill="none" stroke="#e6edf7" stroke-width="1.1"/>
<rect x="579.15" y="438.90000000000003" width="5.3" height="12.799999999999978" rx="1" fill="#e2e0dc"/>
<rect x="579.15" y="442.528" width="5.3" height="5.543999999999992" fill="#b89a7c"/>
<rect x="625.75" y="427.6" width="8.5" height="15.399999999999977" rx="3" fill="none" stroke="#e6edf7" stroke-width="1.1"/>
<rect x="627.35" y="428.90000000000003" width="5.3" height="12.799999999999978" rx="1" fill="#e2e0dc"/>
<rect x="627.35" y="432.528" width="5.3" height="5.543999999999992" fill="#b89a7c"/>
<rect x="635.5" y="421.5" width="13" height="27.5" rx="3" fill="none" stroke="#e6edf7" stroke-width="1.1"/>
<rect x="637.1" y="422.8" width="9.8" height="24.9" rx="1" fill="#e2e0dc"/>
<rect x="637.1" y="430.3" width="9.8" height="9.9" fill="#b08a6c"/>
<rect x="599.6" y="468.15" width="16.799999999999955" height="8.5" rx="3" fill="none" stroke="#e6edf7" stroke-width="1.1"/>
<rect x="600.9" y="469.75" width="14.199999999999955" height="5.3" rx="1" fill="#e2e0dc"/>
<rect x="604.64" y="469.75" width="6.719999999999982" height="5.3" fill="#444"/>
<rect x="629.3" y="468.15" width="16.90000000000009" height="8.5" rx="3" fill="none" stroke="#e6edf7" stroke-width="1.1"/>
<rect x="630.5999999999999" y="469.75" width="14.300000000000091" height="5.3" rx="1" fill="#e2e0dc"/>
<rect x="634.37" y="469.75" width="6.760000000000037" height="5.3" fill="#444"/>
<rect x="595" y="482" width="25.200000000000045" height="11.5" fill="none" stroke="#eef2f8" stroke-width="1.3"/>
<rect x="597.5" y="484.2" width="20.200000000000045" height="7.1" fill="#ece8e4"/>
<rect x="597.5" y="484.2" width="4" height="7.1" fill="#d4d0cc"/>
<rect x="624.7" y="482" width="25.299999999999955" height="11.5" fill="none" stroke="#eef2f8" stroke-width="1.3"/>
<rect x="627.2" y="484.2" width="20.299999999999955" height="7.1" fill="#ece8e4"/>
<rect x="627.2" y="484.2" width="4" height="7.1" fill="#d4d0cc"/>
<rect x="568.5" y="494.5" width="17.5" height="49" fill="none" stroke="#dfe8f5" stroke-width="1"/>
<rect x="568.0" y="529" width="16.5" height="13" fill="#1e1e1e"/>
<circle cx="572.5" cy="539" r="2.2" fill="#c8c8c8"/>
<path d="M568.5,497 H583 Q585,497 585,500 V529 Q585,532 582,532 H569.5 Q566.5,532 566.5,529 V509 H566.0 V503 H566.5 V499 Q566.5,497 568.5,497 Z" fill="#f2c31e"/>
<rect x="572.15" y="506" width="5.2" height="20" fill="#3a2a12"/>
<rect x="573.75" y="509" width="2" height="14" fill="#a07830"/>
<text transform="translate(598.5160000000001,559) rotate(-90)" font-size="8" font-weight="bold" fill="#fff" text-anchor="start">VCCIO</text>
<text transform="translate(614.6160000000001,559) rotate(-90)" font-size="8" font-weight="bold" fill="#fff" text-anchor="start">GND</text>
<text transform="translate(629.916,559) rotate(-90)" font-size="8" font-weight="bold" fill="#fff" text-anchor="start">TXD</text>
<text transform="translate(646.0160000000001,559) rotate(-90)" font-size="8" font-weight="bold" fill="#fff" text-anchor="start">RXD</text>
<path d="M624.4,538.0 L627,540.8 L629.6,538.0" fill="none" stroke="#fff" stroke-width="1.3"/>
<path d="M627,537.0 V533.5 M627,531.5 V528.0" stroke="#fff" stroke-width="1.3"/>
<path d="M643.1,540.12 V536.62 M643.1,534.62 V531.12" stroke="#fff" stroke-width="1.3"/>
<path d="M640.5,530.62 L643.1,527.62 L645.7,530.62" fill="none" stroke="#fff" stroke-width="1.3"/>
<text transform="translate(594.82535,520) rotate(-90)" font-size="8.3" font-weight="bold" fill="#fff" text-anchor="middle">VCCIO</text>
<text transform="translate(580.216,485) rotate(-90)" font-size="8" font-weight="bold" fill="#fff" text-anchor="middle">3.3V</text>
<text transform="translate(580.1160000000001,550) rotate(-90)" font-size="8" font-weight="bold" fill="#fff" text-anchor="middle">5V</text>
<text transform="translate(607.9,500.70175) rotate(180)" font-size="8.5" font-weight="bold" fill="#fff" text-anchor="middle">TXD</text>
<text transform="translate(637.8,500.70175) rotate(180)" font-size="8.5" font-weight="bold" fill="#fff" text-anchor="middle">RXD</text>
<circle cx="619" cy="515" r="1.1" fill="#163f7e"/>
<circle cx="603" cy="548" r="1.1" fill="#163f7e"/>
<circle cx="635" cy="548" r="1.1" fill="#163f7e"/>
<circle cx="572" cy="390" r="1.1" fill="#163f7e"/>
<circle cx="660" cy="395" r="1.1" fill="#163f7e"/>
<path d="M588.5,587.8 L588.5,569.0 Q588.5,561.0 596,561.0 L642.8,561.0 Q650.3,561.0 650.3,569.0 L650.3,587.8" fill="#1d3566" stroke="#d2def0" stroke-width="1.5"/>
<line x1="603.7" y1="561.0" x2="603.7" y2="574.3" stroke="#b8c8e0" stroke-width="1"/>
<rect x="594.3000000000001" y="588.8" width="2.6" height="41.200000000000045" fill="#e4dfdc"/>
<rect x="595.8000000000001" y="588.8" width="1" height="41.200000000000045" fill="#d2c8c6"/>
<rect x="609.7" y="588.8" width="2.6" height="41.200000000000045" fill="#e4dfdc"/>
<rect x="611.2" y="588.8" width="1" height="41.200000000000045" fill="#d2c8c6"/>
<rect x="625.0" y="588.8" width="2.6" height="41.200000000000045" fill="#e4dfdc"/>
<rect x="626.5" y="588.8" width="1" height="41.200000000000045" fill="#d2c8c6"/>
<rect x="641.0" y="588.8" width="2.6" height="41.200000000000045" fill="#e4dfdc"/>
<rect x="642.5" y="588.8" width="1" height="41.200000000000045" fill="#d2c8c6"/>
<rect x="590" y="574.3" width="58.799999999999955" height="14.5" fill="#252525"/>
<rect x="603.6500000000001" y="574.3" width="1.6" height="14.5" fill="#111"/>
<rect x="618.6" y="574.3" width="1.6" height="14.5" fill="#111"/>
<rect x="633.55" y="574.3" width="1.6" height="14.5" fill="#111"/>
<rect x="591.5" y="574.3" width="2.5" height="14.5" fill="#3a3a3a"/>
<rect x="606.45" y="574.3" width="2.5" height="14.5" fill="#3a3a3a"/>
<rect x="621.4" y="574.3" width="2.5" height="14.5" fill="#3a3a3a"/>
<rect x="636.3499999999999" y="574.3" width="2.5" height="14.5" fill="#3a3a3a"/>
<rect x="593.4" y="569.7" width="4.4" height="4.599999999999909" fill="#bdb6ab"/>
<circle cx="595.6" cy="569.7" r="4.4" fill="#d8d3ca"/>
<circle cx="595.6" cy="569.7" r="2.6" fill="#6e675e"/>
<circle cx="595.3000000000001" cy="569.4000000000001" r="1.4" fill="#cfc9be"/>
<rect x="608.8" y="569.7" width="4.4" height="4.599999999999909" fill="#bdb6ab"/>
<circle cx="611" cy="569.7" r="4.4" fill="#d8d3ca"/>
<circle cx="611" cy="569.7" r="2.6" fill="#6e675e"/>
<circle cx="610.7" cy="569.4000000000001" r="1.4" fill="#cfc9be"/>
<rect x="624.0999999999999" y="569.7" width="4.4" height="4.599999999999909" fill="#bdb6ab"/>
<circle cx="626.3" cy="569.7" r="4.4" fill="#d8d3ca"/>
<circle cx="626.3" cy="569.7" r="2.6" fill="#6e675e"/>
<circle cx="626.0" cy="569.4000000000001" r="1.4" fill="#cfc9be"/>
<rect x="640.0999999999999" y="569.7" width="4.4" height="4.599999999999909" fill="#bdb6ab"/>
<circle cx="642.3" cy="569.7" r="4.4" fill="#d8d3ca"/>
<circle cx="642.3" cy="569.7" r="2.6" fill="#6e675e"/>
<circle cx="642.0" cy="569.4000000000001" r="1.4" fill="#cfc9be"/>
<text transform="translate(661.46275,449.5) rotate(-90)" font-size="9.5" font-weight="bold" fill="#fff" text-anchor="middle" textLength="155" lengthAdjust="spacingAndGlyphs">PL2303 USB UART Board (micro) V2</text>
<rect x="799.5" y="279" width="101.5" height="308.70000000000005" fill="#2462ae"/>
<rect x="799.5" y="279" width="1.6" height="308.70000000000005" fill="#1b4a8e"/>
<rect x="899.4" y="279" width="1.6" height="308.70000000000005" fill="#1b4a8e"/>
<rect x="799.5" y="279" width="101.5" height="1.2" fill="#1c4c8a"/>
<path d="M844,336 L844,344 L830,356 L818,364 L816,372 L816,408 L808,418 L808,475 L818,485 L818,492" fill="none" stroke="#4f8bd0" stroke-width="3.4000000000000004" stroke-linejoin="round" opacity="0.75"/>
<path d="M844,336 L844,344 L830,356 L818,364 L816,372 L816,408 L808,418 L808,475 L818,485 L818,492" fill="none" stroke="#2360ab" stroke-width="1.6" stroke-linejoin="round"/>
<path d="M848,336 L848,348 L822,372 L822,384" fill="none" stroke="#4f8bd0" stroke-width="3.4000000000000004" stroke-linejoin="round" opacity="0.75"/>
<path d="M848,336 L848,348 L822,372 L822,384" fill="none" stroke="#2360ab" stroke-width="1.6" stroke-linejoin="round"/>
<path d="M858,336 L858,352 L866,360 L866,384" fill="none" stroke="#4f8bd0" stroke-width="3.4000000000000004" stroke-linejoin="round" opacity="0.75"/>
<path d="M858,336 L858,352 L866,360 L866,384" fill="none" stroke="#2360ab" stroke-width="1.6" stroke-linejoin="round"/>
<path d="M884,410 L888,420 L888,455 L878,462" fill="none" stroke="#4f8bd0" stroke-width="3.4000000000000004" stroke-linejoin="round" opacity="0.75"/>
<path d="M884,410 L888,420 L888,455 L878,462" fill="none" stroke="#2360ab" stroke-width="1.6" stroke-linejoin="round"/>
<path d="M851.6,492 L851.6,505 L862.3,516 L862.3,524" fill="none" stroke="#4f8bd0" stroke-width="3.4000000000000004" stroke-linejoin="round" opacity="0.75"/>
<path d="M851.6,492 L851.6,505 L862.3,516 L862.3,524" fill="none" stroke="#2360ab" stroke-width="1.6" stroke-linejoin="round"/>
<path d="M878,492 L878,527" fill="none" stroke="#4f8bd0" stroke-width="3.4000000000000004" stroke-linejoin="round" opacity="0.75"/>
<path d="M878,492 L878,527" fill="none" stroke="#2360ab" stroke-width="1.6" stroke-linejoin="round"/>
<rect x="815.1" y="282" width="10" height="10.4" fill="#e6e6e6"/>
<rect x="815.1" y="317.2" width="10" height="10.4" fill="#e6e6e6"/>
<rect x="874.4" y="282" width="10" height="10.4" fill="#e6e6e6"/>
<rect x="874.4" y="317.2" width="10" height="10.4" fill="#e6e6e6"/>
<rect x="837.6" y="326.9" width="3.4" height="9.7" fill="#f0f0f0"/>
<rect x="842.6" y="326.9" width="3.4" height="9.7" fill="#f0f0f0"/>
<rect x="847.6" y="326.9" width="3.4" height="9.7" fill="#f0f0f0"/>
<rect x="852.6" y="326.9" width="3.4" height="9.7" fill="#f0f0f0"/>
<rect x="857.6" y="326.9" width="3.4" height="9.7" fill="#f0f0f0"/>
<rect x="825.3" y="270.2" width="47.5" height="55.1" rx="1" fill="#dcd8d6" stroke="#f4f4f4" stroke-width="1"/>
<path d="M831,298 V279 Q831,277.5 832.5,277.5 H835.5 Q837,277.5 837,279 V298" fill="none" stroke="#2a2a2a" stroke-width="1.8"/>
<path d="M860,298 V279 Q860,277.5 861.5,277.5 H864.5 Q866,277.5 866,279 V298" fill="none" stroke="#2a2a2a" stroke-width="1.8"/>
<path d="M840.5,277 L843.5,299 Q844,302 847,302 H850 Q853,302 853.5,299 L856.5,277" fill="none" stroke="#2a2a2a" stroke-width="1.8"/>
<path d="M843.5,296 H853.5 L852.5,303.5 H844.5 Z" fill="#2a2a2a"/>
<rect x="846" y="294" width="5" height="3" fill="#bbb"/>
<circle cx="833" cy="313" r="1.2" fill="#555"/><circle cx="862.5" cy="313" r="1.2" fill="#555"/>
<rect x="837" y="324.5" width="25" height="1.5" fill="#444"/>
<circle cx="815.0" cy="347.5" r="11.799999999999999" fill="#173d7a"/>
<circle cx="814.5" cy="347.8" r="10.2" fill="#f1f0ec"/>
<circle cx="814.2" cy="348.1" r="7.343999999999999" fill="#e6e0d4"/>
<rect x="808.584" y="345.76" width="11.831999999999999" height="4.08" rx="2.04" transform="rotate(45 814.5 347.8)" fill="#cbbb9c"/>
<rect x="808.584" y="345.76" width="11.831999999999999" height="4.08" rx="2.04" transform="rotate(135 814.5 347.8)" fill="#cbbb9c"/>
<circle cx="814.5" cy="347.8" r="1.8359999999999999" fill="#e3dacb"/>
<circle cx="886.3" cy="347.5" r="11.799999999999999" fill="#173d7a"/>
<circle cx="885.8" cy="347.8" r="10.2" fill="#f1f0ec"/>
<circle cx="885.5" cy="348.1" r="7.343999999999999" fill="#e6e0d4"/>
<rect x="879.8839999999999" y="345.76" width="11.831999999999999" height="4.08" rx="2.04" transform="rotate(45 885.8 347.8)" fill="#cbbb9c"/>
<rect x="879.8839999999999" y="345.76" width="11.831999999999999" height="4.08" rx="2.04" transform="rotate(135 885.8 347.8)" fill="#cbbb9c"/>
<circle cx="885.8" cy="347.8" r="1.8359999999999999" fill="#e3dacb"/>
<rect x="832" y="361.6" width="26.200000000000045" height="11.399999999999977" fill="none" stroke="#eef2f8" stroke-width="1.3"/>
<rect x="834.5" y="363.8" width="21.200000000000045" height="6.999999999999977" fill="#ece8e4"/>
<rect x="834.5" y="363.8" width="4" height="6.999999999999977" fill="#d4d0cc"/>
<text transform="translate(870.316,366) rotate(-90)" font-size="8" font-weight="bold" fill="#fff" text-anchor="middle">PWR</text>
<rect x="834.45" y="388.4" width="9.5" height="16.100000000000023" rx="3" fill="none" stroke="#e6edf7" stroke-width="1.1"/>
<rect x="836.0500000000001" y="389.7" width="6.3" height="13.500000000000023" rx="1" fill="#e2e0dc"/>
<rect x="836.0500000000001" y="393.55199999999996" width="6.3" height="5.796000000000008" fill="#4a4a4a"/>
<rect x="844.45" y="388.4" width="9.5" height="16.100000000000023" rx="3" fill="none" stroke="#e6edf7" stroke-width="1.1"/>
<rect x="846.0500000000001" y="389.7" width="6.3" height="13.500000000000023" rx="1" fill="#e2e0dc"/>
<rect x="846.0500000000001" y="393.55199999999996" width="6.3" height="5.796000000000008" fill="#4a4a4a"/>
<rect x="854.45" y="388.4" width="9.5" height="16.100000000000023" rx="3" fill="none" stroke="#e6edf7" stroke-width="1.1"/>
<rect x="856.0500000000001" y="389.7" width="6.3" height="13.500000000000023" rx="1" fill="#e2e0dc"/>
<rect x="856.0500000000001" y="393.55199999999996" width="6.3" height="5.796000000000008" fill="#4a4a4a"/>
<rect x="864.95" y="388.4" width="9.5" height="16.100000000000023" rx="3" fill="none" stroke="#e6edf7" stroke-width="1.1"/>
<rect x="866.5500000000001" y="389.7" width="6.3" height="13.500000000000023" rx="1" fill="#e2e0dc"/>
<rect x="866.5500000000001" y="393.55199999999996" width="6.3" height="5.796000000000008" fill="#4a4a4a"/>
<rect x="825.9139999999999" y="410.7" width="1.8420000000000027" height="10.900000000000034" rx="0.6" fill="#e8e8e8"/>
<rect x="825.9139999999999" y="442.6" width="1.8420000000000027" height="12.399999999999977" rx="0.6" fill="#e8e8e8"/>
<rect x="828.9839999999999" y="410.7" width="1.8420000000000027" height="10.900000000000034" rx="0.6" fill="#e8e8e8"/>
<rect x="828.9839999999999" y="442.6" width="1.8420000000000027" height="12.399999999999977" rx="0.6" fill="#e8e8e8"/>
<rect x="832.0539999999999" y="410.7" width="1.8420000000000027" height="10.900000000000034" rx="0.6" fill="#e8e8e8"/>
<rect x="832.0539999999999" y="442.6" width="1.8420000000000027" height="12.399999999999977" rx="0.6" fill="#e8e8e8"/>
<rect x="835.1239999999999" y="410.7" width="1.8420000000000027" height="10.900000000000034" rx="0.6" fill="#e8e8e8"/>
<rect x="835.1239999999999" y="442.6" width="1.8420000000000027" height="12.399999999999977" rx="0.6" fill="#e8e8e8"/>
<rect x="838.194" y="410.7" width="1.8420000000000027" height="10.900000000000034" rx="0.6" fill="#e8e8e8"/>
<rect x="838.194" y="442.6" width="1.8420000000000027" height="12.399999999999977" rx="0.6" fill="#e8e8e8"/>
<rect x="841.2639999999999" y="410.7" width="1.8420000000000027" height="10.900000000000034" rx="0.6" fill="#e8e8e8"/>
<rect x="841.2639999999999" y="442.6" width="1.8420000000000027" height="12.399999999999977" rx="0.6" fill="#e8e8e8"/>
<rect x="844.334" y="410.7" width="1.8420000000000027" height="10.900000000000034" rx="0.6" fill="#e8e8e8"/>
<rect x="844.334" y="442.6" width="1.8420000000000027" height="12.399999999999977" rx="0.6" fill="#e8e8e8"/>
<rect x="847.404" y="410.7" width="1.8420000000000027" height="10.900000000000034" rx="0.6" fill="#e8e8e8"/>
<rect x="847.404" y="442.6" width="1.8420000000000027" height="12.399999999999977" rx="0.6" fill="#e8e8e8"/>
<rect x="850.4739999999999" y="410.7" width="1.8420000000000027" height="10.900000000000034" rx="0.6" fill="#e8e8e8"/>
<rect x="850.4739999999999" y="442.6" width="1.8420000000000027" height="12.399999999999977" rx="0.6" fill="#e8e8e8"/>
<rect x="853.544" y="410.7" width="1.8420000000000027" height="10.900000000000034" rx="0.6" fill="#e8e8e8"/>
<rect x="853.544" y="442.6" width="1.8420000000000027" height="12.399999999999977" rx="0.6" fill="#e8e8e8"/>
<rect x="825.3" y="420.6" width="30.700000000000045" height="23.0" fill="#2a2a2a"/>
<circle cx="822.8" cy="454" r="1" fill="#fff"/>
<rect x="812.55" y="414.6" width="8.5" height="16.099999999999966" rx="3" fill="none" stroke="#e6edf7" stroke-width="1.1"/>
<rect x="814.15" y="415.90000000000003" width="5.3" height="13.499999999999966" rx="1" fill="#e2e0dc"/>
<rect x="814.15" y="419.752" width="5.3" height="5.795999999999988" fill="#b89a7c"/>
<rect x="812.55" y="434.6" width="8.5" height="16.899999999999977" rx="3" fill="none" stroke="#e6edf7" stroke-width="1.1"/>
<rect x="814.15" y="435.90000000000003" width="5.3" height="14.299999999999978" rx="1" fill="#e2e0dc"/>
<rect x="814.15" y="440.00800000000004" width="5.3" height="6.083999999999992" fill="#b89a7c"/>
<rect x="861.25" y="423.7" width="8.5" height="17.600000000000023" rx="3" fill="none" stroke="#e6edf7" stroke-width="1.1"/>
<rect x="862.85" y="425.0" width="5.3" height="15.000000000000023" rx="1" fill="#e2e0dc"/>
<rect x="862.85" y="429.332" width="5.3" height="6.336000000000008" fill="#b89a7c"/>
<rect x="871.6" y="416" width="13" height="30.69999999999999" rx="3" fill="none" stroke="#e6edf7" stroke-width="1.1"/>
<rect x="873.2" y="417.3" width="9.8" height="28.099999999999987" rx="1" fill="#e2e0dc"/>
<rect x="873.2" y="425.824" width="9.8" height="11.051999999999996" fill="#b08a6c"/>
<rect x="834.6" y="465.95" width="16.699999999999932" height="8.5" rx="3" fill="none" stroke="#e6edf7" stroke-width="1.1"/>
<rect x="835.9" y="467.55" width="14.099999999999932" height="5.3" rx="1" fill="#e2e0dc"/>
<rect x="839.61" y="467.55" width="6.679999999999973" height="5.3" fill="#444"/>
<rect x="864.3" y="465.95" width="16.90000000000009" height="8.5" rx="3" fill="none" stroke="#e6edf7" stroke-width="1.1"/>
<rect x="865.5999999999999" y="467.55" width="14.300000000000091" height="5.3" rx="1" fill="#e2e0dc"/>
<rect x="869.37" y="467.55" width="6.760000000000037" height="5.3" fill="#444"/>
<rect x="830.6" y="479.6" width="24.0" height="11.399999999999977" fill="none" stroke="#eef2f8" stroke-width="1.3"/>
<rect x="833.1" y="481.8" width="19.0" height="6.999999999999977" fill="#ece8e4"/>
<rect x="833.1" y="481.8" width="4" height="6.999999999999977" fill="#d4d0cc"/>
<rect x="859.7" y="479.6" width="23.799999999999955" height="11.399999999999977" fill="none" stroke="#eef2f8" stroke-width="1.3"/>
<rect x="862.2" y="481.8" width="18.799999999999955" height="6.999999999999977" fill="#ece8e4"/>
<rect x="862.2" y="481.8" width="4" height="6.999999999999977" fill="#d4d0cc"/>
<rect x="802.8" y="491.3" width="17.40000000000009" height="52.19999999999999" fill="none" stroke="#dfe8f5" stroke-width="1"/>
<rect x="802.3" y="527.7" width="16.40000000000009" height="14.299999999999955" fill="#1e1e1e"/>
<circle cx="806.8" cy="539" r="2.2" fill="#c8c8c8"/>
<path d="M802.8,493.8 H817.2 Q819.2,493.8 819.2,496.8 V527.7 Q819.2,530.7 816.2,530.7 H803.8 Q800.8,530.7 800.8,527.7 V505.8 H800.3 V499.8 H800.8 V495.8 Q800.8,493.8 802.8,493.8 Z" fill="#f2c31e"/>
<rect x="806.4" y="502.8" width="5.2" height="21.900000000000034" fill="#3a2a12"/>
<rect x="808.0" y="505.8" width="2" height="15.900000000000034" fill="#a07830"/>
<text transform="translate(833.1160000000001,558.9) rotate(-90)" font-size="8" font-weight="bold" fill="#fff" text-anchor="start">VCCIO</text>
<text transform="translate(848.916,558.9) rotate(-90)" font-size="8" font-weight="bold" fill="#fff" text-anchor="start">GND</text>
<text transform="translate(865.216,558.9) rotate(-90)" font-size="8" font-weight="bold" fill="#fff" text-anchor="start">TXD</text>
<text transform="translate(881.5160000000001,558.9) rotate(-90)" font-size="8" font-weight="bold" fill="#fff" text-anchor="start">RXD</text>
<path d="M859.6999999999999,537.9 L862.3,540.6999999999999 L864.9,537.9" fill="none" stroke="#fff" stroke-width="1.3"/>
<path d="M862.3,536.9 V533.4 M862.3,531.4 V527.9" stroke="#fff" stroke-width="1.3"/>
<path d="M878.6,540.02 V536.52 M878.6,534.52 V531.02" stroke="#fff" stroke-width="1.3"/>
<path d="M876.0,530.52 L878.6,527.52 L881.2,530.52" fill="none" stroke="#fff" stroke-width="1.3"/>
<text transform="translate(827.52535,516) rotate(-90)" font-size="8.3" font-weight="bold" fill="#fff" text-anchor="middle">VCCIO</text>
<text transform="translate(812.716,480) rotate(-90)" font-size="8" font-weight="bold" fill="#fff" text-anchor="middle">3.3V</text>
<text transform="translate(814.716,552) rotate(-90)" font-size="8" font-weight="bold" fill="#fff" text-anchor="middle">5V</text>
<text transform="translate(842.9,499.10175) rotate(180)" font-size="8.5" font-weight="bold" fill="#fff" text-anchor="middle">TXD</text>
<text transform="translate(872,499.10175) rotate(180)" font-size="8.5" font-weight="bold" fill="#fff" text-anchor="middle">RXD</text>
<circle cx="853" cy="515" r="1.1" fill="#163f7e"/>
<circle cx="838" cy="548" r="1.1" fill="#163f7e"/>
<circle cx="870" cy="548" r="1.1" fill="#163f7e"/>
<circle cx="806" cy="300" r="1.1" fill="#163f7e"/>
<circle cx="894" cy="300" r="1.1" fill="#163f7e"/>
<path d="M822.8,588.2 L822.8,568.5 Q822.8,560.5 830.3,560.5 L878.2,560.5 Q885.7,560.5 885.7,568.5 L885.7,588.2" fill="#1d3566" stroke="#d2def0" stroke-width="1.5"/>
<line x1="838.275" y1="560.5" x2="838.275" y2="573.8" stroke="#b8c8e0" stroke-width="1"/>
<rect x="829.0" y="589.2" width="2.6" height="41.5" fill="#e4dfdc"/>
<rect x="830.5" y="589.2" width="1" height="41.5" fill="#d2c8c6"/>
<rect x="844.1" y="589.2" width="2.6" height="41.5" fill="#e4dfdc"/>
<rect x="845.6" y="589.2" width="1" height="41.5" fill="#d2c8c6"/>
<rect x="859.7" y="589.2" width="2.6" height="41.5" fill="#e4dfdc"/>
<rect x="861.2" y="589.2" width="1" height="41.5" fill="#d2c8c6"/>
<rect x="876.4000000000001" y="589.2" width="2.6" height="41.5" fill="#e4dfdc"/>
<rect x="877.9000000000001" y="589.2" width="1" height="41.5" fill="#d2c8c6"/>
<rect x="824.3" y="573.8" width="59.90000000000009" height="15.400000000000091" fill="#252525"/>
<rect x="838.225" y="573.8" width="1.6" height="15.400000000000091" fill="#111"/>
<rect x="853.45" y="573.8" width="1.6" height="15.400000000000091" fill="#111"/>
<rect x="868.6750000000001" y="573.8" width="1.6" height="15.400000000000091" fill="#111"/>
<rect x="825.8" y="573.8" width="2.5" height="15.400000000000091" fill="#3a3a3a"/>
<rect x="841.025" y="573.8" width="2.5" height="15.400000000000091" fill="#3a3a3a"/>
<rect x="856.25" y="573.8" width="2.5" height="15.400000000000091" fill="#3a3a3a"/>
<rect x="871.475" y="573.8" width="2.5" height="15.400000000000091" fill="#3a3a3a"/>
<rect x="828.0999999999999" y="569.2" width="4.4" height="4.599999999999909" fill="#bdb6ab"/>
<circle cx="830.3" cy="569.2" r="4.4" fill="#d8d3ca"/>
<circle cx="830.3" cy="569.2" r="2.6" fill="#6e675e"/>
<circle cx="830.0" cy="568.9000000000001" r="1.4" fill="#cfc9be"/>
<rect x="843.1999999999999" y="569.2" width="4.4" height="4.599999999999909" fill="#bdb6ab"/>
<circle cx="845.4" cy="569.2" r="4.4" fill="#d8d3ca"/>
<circle cx="845.4" cy="569.2" r="2.6" fill="#6e675e"/>
<circle cx="845.1" cy="568.9000000000001" r="1.4" fill="#cfc9be"/>
<rect x="858.8" y="569.2" width="4.4" height="4.599999999999909" fill="#bdb6ab"/>
<circle cx="861" cy="569.2" r="4.4" fill="#d8d3ca"/>
<circle cx="861" cy="569.2" r="2.6" fill="#6e675e"/>
<circle cx="860.7" cy="568.9000000000001" r="1.4" fill="#cfc9be"/>
<rect x="875.5" y="569.2" width="4.4" height="4.599999999999909" fill="#bdb6ab"/>
<circle cx="877.7" cy="569.2" r="4.4" fill="#d8d3ca"/>
<circle cx="877.7" cy="569.2" r="2.6" fill="#6e675e"/>
<circle cx="877.4000000000001" cy="568.9000000000001" r="1.4" fill="#cfc9be"/>
<text transform="translate(897.345,447.5) rotate(-90)" font-size="10" font-weight="bold" fill="#fff" text-anchor="middle" textLength="164" lengthAdjust="spacingAndGlyphs">PL2303 USB UART Board (mini) V2</text>
</svg></body></html>
